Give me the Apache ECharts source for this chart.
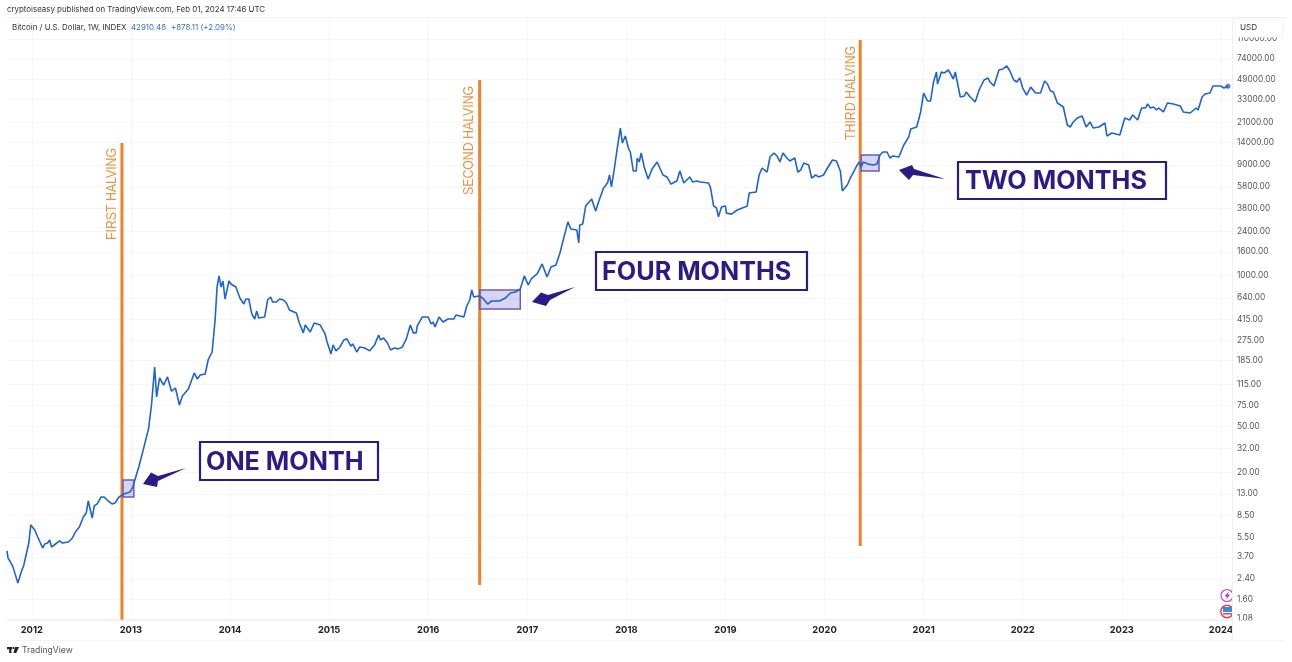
<!DOCTYPE html>
<html><head><meta charset="utf-8">
<style>html,body{margin:0;padding:0;background:#fff}#c{width:1292px;height:662px}</style>
<script src="https://cdn.jsdelivr.net/npm/echarts@6/dist/echarts.min.js"></script>
</head><body><div id="c"></div>
<script>
const years = [2011.75,2011.76,2011.79,2011.81,2011.83,2011.86,2011.89,2011.92,2011.94,2011.97,2011.99,2012.01,2012.03,2012.06,2012.08,2012.11,2012.13,2012.16,2012.18,2012.20,2012.24,2012.28,2012.31,2012.37,2012.41,2012.44,2012.48,2012.52,2012.55,2012.57,2012.59,2012.61,2012.63,2012.66,2012.70,2012.73,2012.77,2012.81,2012.84,2012.88,2012.93,2012.99,2013.02,2013.04,2013.08,2013.13,2013.18,2013.21,2013.24,2013.26,2013.29,2013.33,2013.37,2013.41,2013.45,2013.49,2013.52,2013.58,2013.64,2013.67,2013.70,2013.75,2013.78,2013.82,2013.85,2013.87,2013.89,2013.91,2013.93,2013.95,2013.99,2014.01,2014.06,2014.10,2014.14,2014.16,2014.19,2014.22,2014.25,2014.27,2014.29,2014.35,2014.38,2014.41,2014.43,2014.47,2014.50,2014.54,2014.57,2014.60,2014.62,2014.67,2014.70,2014.74,2014.76,2014.78,2014.81,2014.85,2014.91,2014.96,2014.98,2015.00,2015.02,2015.04,2015.07,2015.11,2015.15,2015.18,2015.22,2015.24,2015.28,2015.31,2015.36,2015.41,2015.46,2015.50,2015.52,2015.55,2015.59,2015.62,2015.66,2015.70,2015.74,2015.78,2015.82,2015.85,2015.88,2015.89,2015.94,2015.96,2016.00,2016.03,2016.05,2016.07,2016.09,2016.11,2016.15,2016.20,2016.26,2016.28,2016.32,2016.36,2016.39,2016.42,2016.44,2016.46,2016.51,2016.55,2016.60,2016.64,2016.72,2016.78,2016.83,2016.88,2016.93,2016.97,2017.01,2017.04,2017.10,2017.15,2017.20,2017.24,2017.29,2017.33,2017.41,2017.44,2017.50,2017.52,2017.53,2017.56,2017.59,2017.65,2017.69,2017.73,2017.77,2017.81,2017.83,2017.85,2017.88,2017.91,2017.94,2017.96,2017.98,2017.99,2018.02,2018.04,2018.07,2018.10,2018.11,2018.13,2018.15,2018.18,2018.22,2018.24,2018.26,2018.31,2018.33,2018.37,2018.41,2018.45,2018.51,2018.52,2018.54,2018.58,2018.64,2018.67,2018.71,2018.75,2018.83,2018.85,2018.88,2018.91,2018.93,2018.96,2019.00,2019.01,2019.06,2019.12,2019.22,2019.24,2019.31,2019.34,2019.37,2019.39,2019.42,2019.45,2019.49,2019.52,2019.55,2019.58,2019.62,2019.65,2019.70,2019.73,2019.76,2019.79,2019.84,2019.87,2019.91,2019.94,2019.99,2020.03,2020.08,2020.12,2020.16,2020.18,2020.23,2020.26,2020.32,2020.35,2020.37,2020.39,2020.44,2020.49,2020.53,2020.56,2020.59,2020.63,2020.66,2020.69,2020.75,2020.80,2020.85,2020.87,2020.93,2020.97,2021.00,2021.04,2021.07,2021.10,2021.13,2021.14,2021.18,2021.21,2021.25,2021.30,2021.32,2021.34,2021.37,2021.41,2021.43,2021.47,2021.52,2021.56,2021.61,2021.65,2021.67,2021.71,2021.76,2021.80,2021.84,2021.87,2021.91,2021.94,2021.97,2022.00,2022.04,2022.08,2022.13,2022.18,2022.22,2022.25,2022.28,2022.31,2022.35,2022.41,2022.45,2022.48,2022.51,2022.55,2022.60,2022.64,2022.68,2022.71,2022.77,2022.83,2022.85,2022.90,2022.98,2023.03,2023.08,2023.11,2023.16,2023.20,2023.24,2023.26,2023.29,2023.32,2023.35,2023.37,2023.42,2023.46,2023.52,2023.59,2023.62,2023.69,2023.75,2023.77,2023.81,2023.84,2023.89,2023.92,2023.94,2024.00,2024.03,2024.07];
const prices = [4.17,3.63,3.29,3.04,2.98,2.20,2.69,3.16,3.22,4.89,7.0,7.0,6.33,5.51,5.51,4.42,4.79,4.89,5.19,4.51,4.79,5.09,4.89,4.99,5.40,6.08,6.72,8.2,8.88,11.27,11.5,8.04,10.2,10.62,12.2,12.2,11.27,10.62,10.83,12.2,12.95,13.46,14.86,17.1,22.17,32.4,48.1,79,161.8,89.2,130,113,132.7,100,106.5,76,91,104.5,143.7,127.5,138,140.8,186,218,412,794,989,794,895,625,895,843,794,638,566,625,625,465,420,493,429,437,613,651,589,589,625,613,578,503,484,474,388,319,373,380,325,388,373,312,266,266,210,251,223,241,277,283,245,256,218,241,236,223,251,306,277,288,261,227,236,232,241,283,373,319,319,366,437,420,437,380,396,359,366,437,396,420,420,455,446,437,544,613,748,651,664,638,566,601,601,638,704,718,763,989,826,931,1029,1255,968,1182,1230,1562,2900,2517,2467,1905,2725,2782,3977,4570,3600,4570,5686,6280,7362,5800,8460,12840,18740,13900,13900,15990,12590,11630,7970,7970,10320,9530,11400,8640,6800,6930,8290,9530,9340,7360,7080,6150,6530,6280,7970,6280,7080,6400,6530,6400,6280,5690,3980,3820,3200,3900,3980,3450,3380,3670,3980,5150,5250,7360,8460,8640,7810,10530,11400,10750,9530,11400,10320,9720,10320,7810,8130,9340,8980,6930,7360,7080,7360,8460,9920,9720,7970,5360,6030,6930,8640,9530,8640,9530,9160,8980,9160,10950,11630,11630,10320,10750,10530,13374,15700,18370,19110,25780,37550,32060,32060,46790,57100,44970,57100,55980,59400,49660,57100,57100,34700,35400,38340,34700,31430,39900,48680,50650,46790,43150,59400,60600,64300,58200,48680,46790,50650,41500,36100,42250,37550,37550,47700,44900,39100,38340,30800,28450,19900,19110,21130,22870,23800,19110,21130,18740,19110,20700,16000,16950,16300,22870,21980,24300,21980,27900,27900,30230,27900,28450,26810,27900,25770,30820,30230,29050,25770,25260,27900,26810,34700,36850,37550,43150,41500,43150,41500,42910.48];
const yTickLabels = [110000,74000,49000,33000,21000,14000,9000,5800,3800,2400,1600,1000,640,415,275,185,115,75,50,32,20,13,8.5,5.5,3.7,2.4,1.6,1.08];
const xTickLabels = [2012,2013,2014,2015,2016,2017,2018,2019,2020,2021,2022,2023,2024];
const halvingNames = ['FIRST HALVING','SECOND HALVING','THIRD HALVING'];
const halvingYears = [2012.91,2016.52,2020.36];
const halvingHigh = [13910,48640,107800];
const halvingLow = [1.06,2.12,4.6];
const delayNames = ['ONE MONTH','FOUR MONTHS','TWO MONTHS'];
const delayStart = [2012.92,2016.52,2020.37];
const delayEnd = [2013.03,2016.93,2020.55];
const delayLow = [12.2,513,7970];
const delayHigh = [17.1,748,10960];

const blue='#1f63cf', orange='#ee8129', navy='#2e1a87', FF='Inter, "Liberation Sans", sans-serif';
const grid='#f4f5f8';
const halvingSeries = halvingYears.map((x,i)=>({type:'line',silent:true,symbol:'none',z:3,
  lineStyle:{color:orange,width:3},data:[[x,halvingHigh[i]],[x,halvingLow[i]]]}));
const txt=(x,y,t,o={})=>({type:'text',x,y,z:200,style:Object.assign({text:t,fontFamily:FF,fontSize:8,fill:'#333',textVerticalAlign:'middle'},o)});
const box=(x,y,w,h,t,tx)=>[
  {type:'rect',z:150,shape:{x,y,width:w,height:h},style:{fill:'#fff',stroke:navy,lineWidth:2.2}},
  txt(tx,y+h/2+1,t,{fontSize:25.2,fontWeight:700,fill:navy})];
const arrow=(pts)=>({type:'polygon',z:160,shape:{points:pts},style:{fill:navy}});
const vtext=(x,y,t)=>({type:'text',x,y,rotation:Math.PI/2,scaleX:0.82,z:150,style:{text:t,fontFamily:'"Liberation Sans",sans-serif',fontSize:15,fill:'#ea9446',textVerticalAlign:'middle'}});

const chart=echarts.init(document.getElementById('c'),null,{renderer:'canvas'});
chart.setOption({
  animation:false,
  backgroundColor:'#fff',
  grid:{left:7,right:60,top:18,bottom:42,containLabel:false},
  xAxis:{type:'value',min:2011.75,max:2024.112,
    axisLine:{show:true,lineStyle:{color:'#eceef2'}},axisTick:{show:false,customValues:xTickLabels},
    splitLine:{show:true,lineStyle:{color:grid,width:1}},
    axisLabel:{customValues:xTickLabels,formatter:v=>String(Math.round(v)),color:'#222',fontFamily:FF,fontSize:9.4,fontWeight:700,margin:6}},
  yAxis:{type:'log',position:'right',min:1.057,max:167000,logBase:10,
    axisLine:{show:false},axisTick:{show:false,customValues:yTickLabels},
    splitLine:{show:true,lineStyle:{color:grid,width:1}},
    axisLabel:{customValues:yTickLabels,formatter:v=>(+v).toFixed(2),color:'#555',fontFamily:FF,fontSize:8.3,margin:5,padding:[2,0,0,0],showMinLabel:true,showMaxLabel:true}},
  series:[
    {type:'line',silent:true,symbol:'none',z:5,smooth:false,lineStyle:{color:blue,width:1.6},
      data:years.map((y,i)=>[y,prices[i]]),
      markArea:{silent:true,z:4,itemStyle:{color:'rgba(110,98,200,0.27)',borderColor:'#6a5cb4',borderWidth:1.5},
        data:delayStart.map((s,i)=>[{coord:[s,delayHigh[i]]},{coord:[delayEnd[i],delayLow[i]]}])}},
    {type:'scatter',silent:true,symbolSize:5,z:6,itemStyle:{color:blue},data:[[years[years.length-1],prices[prices.length-1]]]},
    ...halvingSeries
  ],
  graphic:{elements:[
    txt(7,10,'cryptoiseasy published on TradingView.com, Feb 01, 2024 17:46 UTC',{fontSize:7.9}),
    txt(12,28,'Bitcoin / U.S. Dollar, 1W, INDEX',{fontSize:7.9}),
    txt(131,28,'42910.48',{fontSize:7.9,fill:'#3a6fd0'}),
    txt(171,28,'+878.11 (+2.09%)',{fontSize:7.9,fill:'#3a6fd0'}),
    {type:'line',z:120,shape:{x1:7,y1:17.5,x2:1285,y2:17.5},style:{stroke:'#eff0f3',lineWidth:1}},
    {type:'line',z:120,shape:{x1:7,y1:640.5,x2:1285,y2:640.5},style:{stroke:'#f3f4f6',lineWidth:1}},
    {type:'circle',z:130,shape:{cx:1227,cy:595.5,r:6},style:{fill:'#fff',stroke:'#b14fc5',lineWidth:1.2}},
    {type:'polygon',z:131,shape:{points:[[1229,591],[1224.5,596.5],[1227,596.5],[1226,600],[1230,594.5],[1227.5,594.5]]},style:{fill:'#9c3fb4'}},
    {type:'circle',z:130,shape:{cx:1227,cy:611.5,r:6.2},style:{fill:'#fff',stroke:'#e2434b',lineWidth:1.5}},
    {type:'rect',z:131,shape:{x:1223,y:607,width:9,height:5},style:{fill:'#2f8fdb'}},
    {type:'rect',z:131,shape:{x:1223,y:613,width:9,height:1.5},style:{fill:'#e2434b'}},
    {type:'rect',z:132,shape:{x:1232,y:585,width:4,height:35},style:{fill:'#fff'}},
    {type:'line',z:140,shape:{x1:1232.5,y1:18,x2:1232.5,y2:640},style:{stroke:'#eff0f3',lineWidth:1}},
    {type:'rect',z:140,shape:{x:1235,y:19,width:48,height:18},style:{fill:'#fff',stroke:'#f1f2f5',lineWidth:1}},
    txt(1240,28,'USD',{fontSize:8.2}),
    {type:'rect',z:140,shape:{x:1233,y:620.5,width:59,height:19},style:{fill:'#fff'}},
    {type:'rect',z:200,shape:{x:7,y:647,width:5,height:2.2},style:{fill:'#222'}},
    {type:'rect',z:200,shape:{x:9.2,y:647,width:2.2,height:6},style:{fill:'#222'}},
    {type:'circle',z:200,shape:{cx:13.4,cy:648,r:1.1},style:{fill:'#222'}},
    {type:'polygon',z:200,shape:{points:[[15,647],[19,647],[16.2,653],[13.4,653]]},style:{fill:'#222'}},
    txt(22,650.5,'TradingView',{fontSize:8.6,fill:'#555'}),
    vtext(112,240,halvingNames[0]),
    vtext(469,195,halvingNames[1]),
    vtext(851,140,halvingNames[2]),
    ...box(200,442,178,38,delayNames[0],206),
    ...box(596,252,211,38,delayNames[1],602),
    ...box(958,162,208,37,delayNames[2],965),
    arrow([[143,484],[151,472.5],[158,476],[186,468],[158,481],[157,487]]),
    arrow([[532,302],[541,292.5],[548,295],[575,287],[550,300],[546,306]]),
    arrow([[899,170],[912,165],[914,169],[945,179],[913,175],[909,180]])
  ]}
});
</script></body></html>
